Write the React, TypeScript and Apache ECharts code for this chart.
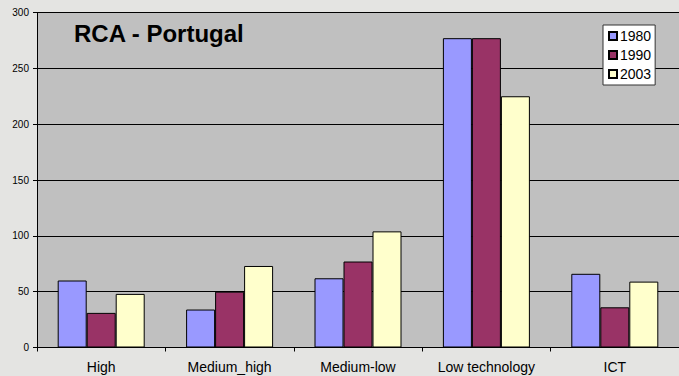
import React, { useEffect, useRef } from "react";
import * as echarts from "echarts";

const categories = ["High", "Medium_high", "Medium-low", "Low technology", "ICT"];
const years = ["1980", "1990", "2003"];
const v1980 = [60, 34, 62, 277, 66];
const v1990 = [31, 50, 77, 277, 36];
const v2003 = [48, 73, 104, 225, 59];
const yTicks = [0, 50, 100, 150, 200, 250, 300];

export default function App() {
  const ref = useRef<HTMLDivElement>(null);
  useEffect(() => {
    const chart = echarts.init(ref.current!, null, { renderer: "svg" });
    const colors = ["#9999ff", "#993366", "#ffffcc"];
    const data = [v1980, v1990, v2003];
    const font = "Liberation Sans, Arial";
    chart.setOption({
      animation: false,
      backgroundColor: "#e4e4e2",
      title: {
        text: "RCA - Portugal",
        left: 69,
        top: 16,
        textStyle: { fontFamily: font, fontWeight: "bold", fontSize: 24, color: "#000" },
      },
      legend: {
        orient: "vertical",
        left: 603,
        top: 25,
        padding: [4, 4, 4, 5],
        itemGap: 5,
        itemWidth: 8,
        itemHeight: 8,
        backgroundColor: "#ffffff",
        borderColor: "#333",
        borderWidth: 1,
        icon: "rect",
        data: years,
        textStyle: { fontFamily: font, fontSize: 14, lineHeight: 14, color: "#000", padding: [0, 0, 0, -2] },
      },
      grid: { left: 37, top: 12.5, width: 648, height: 335, backgroundColor: "#c0c0c0", show: true, borderWidth: 0 },
      xAxis: {
        type: "category",
        data: categories,
        axisLine: { lineStyle: { color: "#000", width: 1 } },
        axisTick: { show: true, length: 4, lineStyle: { color: "#000" } },
        axisLabel: { fontFamily: font, fontSize: 14, color: "#000", margin: 12 },
      },
      yAxis: {
        type: "value",
        min: yTicks[0],
        max: yTicks[yTicks.length - 1],
        interval: 50,
        axisLine: { show: true, lineStyle: { color: "#000", width: 1 } },
        axisTick: { show: true, length: 4, lineStyle: { color: "#000" } },
        axisLabel: { fontFamily: font, fontSize: 10, color: "#000", margin: 8 },
        splitLine: { show: true, lineStyle: { color: "#000", width: 1 } },
      },
      series: years.map((y, i) => ({
        name: y,
        type: "bar",
        data: data[i],
        barWidth: 29,
        barGap: "0%",
        itemStyle: { color: colors[i], borderColor: "#000", borderWidth: 1 },
      })),
    });
    return () => chart.dispose();
  }, []);
  return <div ref={ref} style={{ position: "absolute", left: 0, top: 0, width: 679, height: 376 }} />;
}
